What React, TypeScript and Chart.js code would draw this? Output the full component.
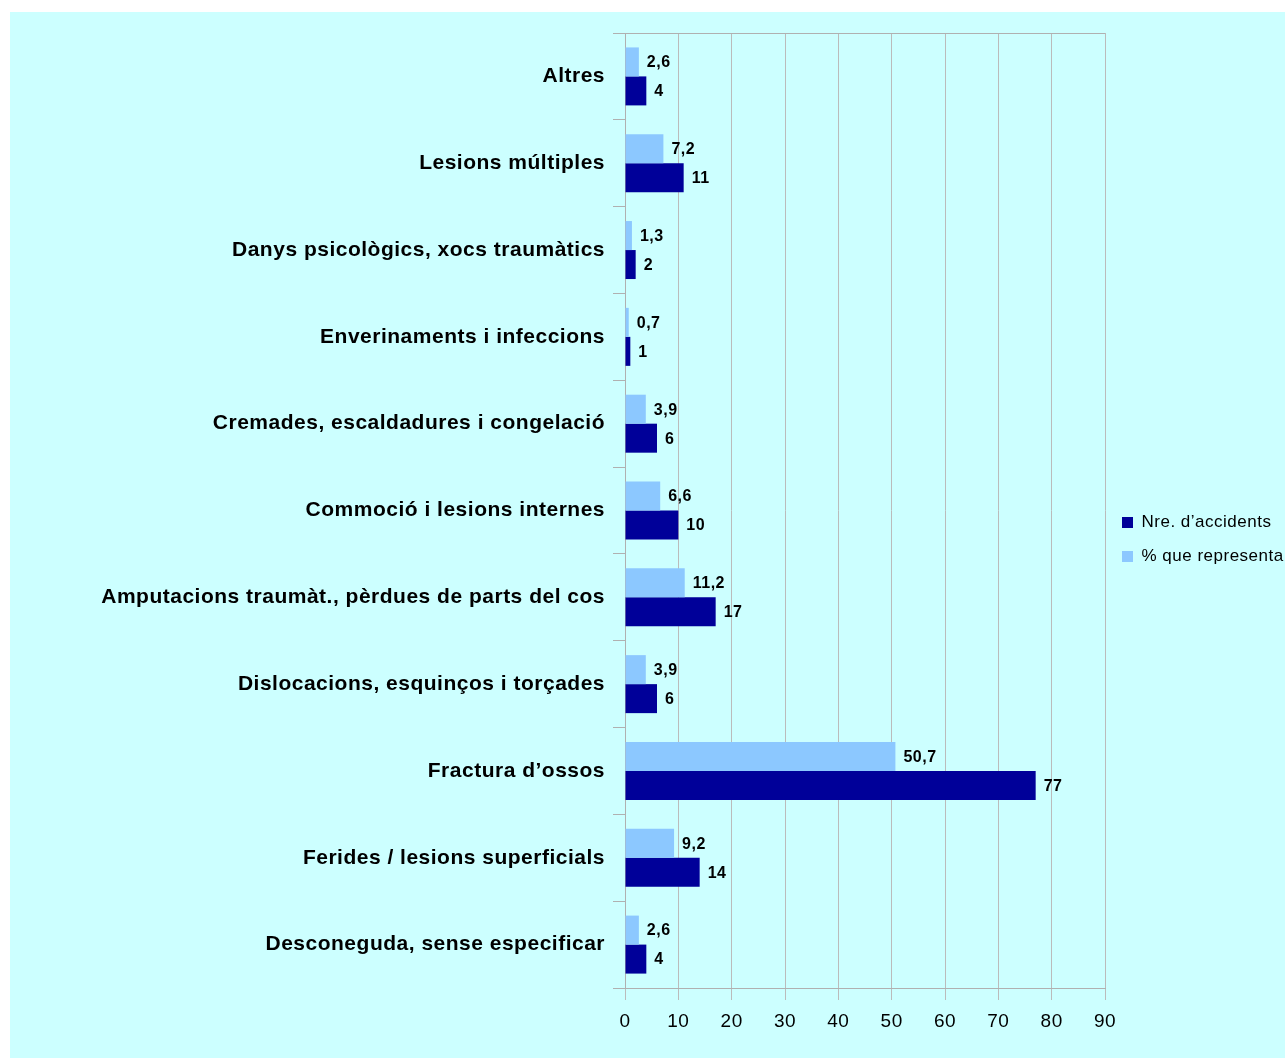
import React, { useEffect, useRef } from "react";
import { Chart, registerables } from "chart.js";

Chart.register(...registerables);

const categories = [
  "Altres",
  "Lesions múltiples",
  "Danys psicològics, xocs traumàtics",
  "Enverinaments i infeccions",
  "Cremades, escaldadures i congelació",
  "Commoció i lesions internes",
  "Amputacions traumàt., pèrdues de parts del cos",
  "Dislocacions, esquinços i torçades",
  "Fractura d’ossos",
  "Ferides / lesions superficials",
  "Desconeguda, sense especificar",
];

const percentValues = [2.6, 7.2, 1.3, 0.7, 3.9, 6.6, 11.2, 3.9, 50.7, 9.2, 2.6];
const accidentValues = [4, 11, 2, 1, 6, 10, 17, 6, 77, 14, 4];

const xTicks = [0, 10, 20, 30, 40, 50, 60, 70, 80, 90];

const seriesNames = ["% que representa", "Nre. d’accidents"];

const FONT = "'Liberation Sans', Arial, Helvetica, sans-serif";

const spacingPlugin = {
  id: "letterSpacing",
  beforeLayout(chart: any) {
    chart.ctx.letterSpacing = "0.5px";
  },
  beforeDraw(chart: any) {
    chart.ctx.letterSpacing = "0.5px";
  },
};

const valueLabelPlugin = {
  id: "valueLabels",
  afterDatasetsDraw(chart: any) {
    const ctx = chart.ctx;
    ctx.save();
    ctx.font = `bold 16px ${FONT}`;
    ctx.fillStyle = "#000000";
    ctx.textAlign = "left";
    ctx.textBaseline = "middle";
    chart.data.datasets.forEach((ds: any, di: number) => {
      const meta = chart.getDatasetMeta(di);
      meta.data.forEach((el: any, i: number) => {
        const v = ds.data[i];
        const txt = String(v).replace(".", ",");
        ctx.fillText(txt, el.x + 8, el.y + 1);
      });
    });
    ctx.restore();
  },
};

const topBorderPlugin = {
  id: "topBorder",
  afterDraw(chart: any) {
    const { ctx, chartArea } = chart;
    ctx.save();
    ctx.strokeStyle = "#B0B0B0";
    ctx.lineWidth = 1;
    ctx.beginPath();
    ctx.moveTo(chartArea.left, chartArea.top + 0.5);
    ctx.lineTo(chartArea.right, chartArea.top + 0.5);
    ctx.stroke();
    ctx.restore();
  },
};

export default function App() {
  const ref = useRef<HTMLCanvasElement | null>(null);

  useEffect(() => {
    if (!ref.current) return;
    const chart = new Chart(ref.current, {
      type: "bar",
      data: {
        labels: categories,
        datasets: [
          {
            label: seriesNames[0],
            data: percentValues,
            backgroundColor: "#8CC8FF",
            borderWidth: 0,
            categoryPercentage: 0.668,
            barPercentage: 1.0,
          },
          {
            label: seriesNames[1],
            data: accidentValues,
            backgroundColor: "#000099",
            borderWidth: 0,
            categoryPercentage: 0.668,
            barPercentage: 1.0,
          },
        ],
      },
      options: {
        indexAxis: "y",
        responsive: false,
        animation: false,
        layout: { padding: { top: 21, bottom: 12, left: 0, right: 0 } },
        scales: {
          x: {
            type: "linear",
            min: 0,
            max: 90,
            afterBuildTicks(scale: any) {
              scale.ticks = xTicks.map((v) => ({ value: v }));
            },
            afterFit(scale: any) {
              scale.height = 58;
            },
            ticks: {
              font: { family: FONT, size: 19 },
              color: "#000000",
              padding: 10,
            },
            grid: {
              color: "#BBBBBB",
              tickLength: 12,
              drawTicks: true,
            },
            border: { display: true, color: "#B0B0B0" },
          },
          y: {
            type: "category",
            offset: true,
            afterFit(scale: any) {
              scale.width = 615;
            },
            ticks: {
              font: { family: FONT, size: 21, weight: "bold" },
              color: "#000000",
              padding: 8,
            },
            grid: {
              offset: true,
              drawOnChartArea: false,
              drawTicks: true,
              tickLength: 12,
              color: "#B0B0B0",
            },
            border: { display: true, color: "#B0B0B0" },
          },
        },
        plugins: {
          legend: {
            position: "right",
            reverse: true,
            maxWidth: 180,
            labels: {
              boxWidth: 11,
              boxHeight: 11,
              padding: 17,
              color: "#000000",
              font: { family: FONT, size: 17 },
            },
          },
          tooltip: { enabled: false },
        },
      },
      plugins: [spacingPlugin, valueLabelPlugin, topBorderPlugin],
    });
    return () => chart.destroy();
  }, []);

  return (
    <div
      style={{
        position: "absolute",
        left: 10,
        top: 12,
        width: 1275,
        height: 1046,
        background: "#CCFFFF",
        overflow: "hidden",
      }}
    >
      <canvas ref={ref} width={1275} height={1046} style={{ display: "block" }} />
    </div>
  );
}
